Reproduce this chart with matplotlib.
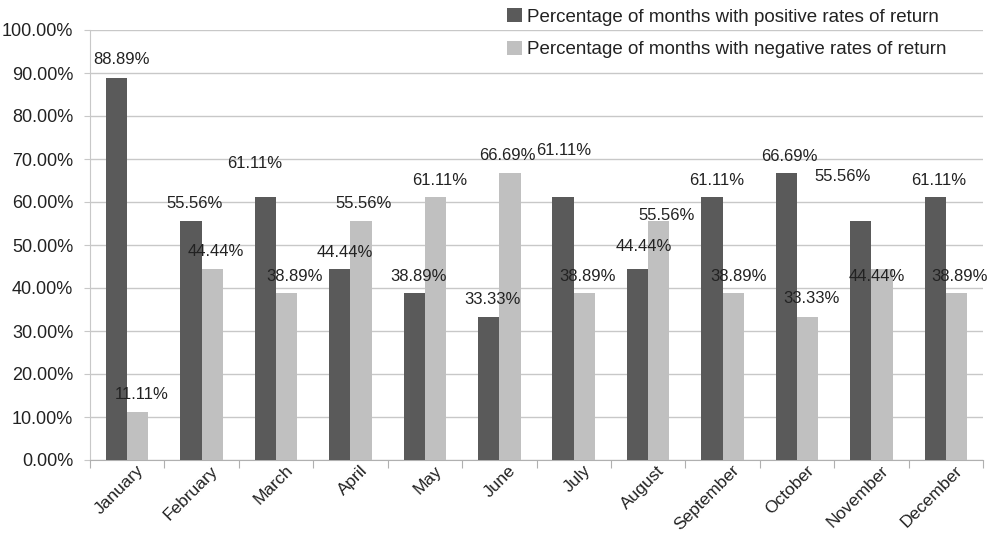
import numpy as np
import matplotlib.pyplot as plt
import matplotlib.transforms as mtransforms
from matplotlib.ticker import FixedLocator, PercentFormatter

plt.rcParams['font.family'] = ['Liberation Sans', 'DejaVu Sans']

months = ['January', 'February', 'March', 'April', 'May', 'June', 'July',
          'August', 'September', 'October', 'November', 'December']
positive = [88.89, 55.56, 61.11, 44.44, 38.89, 33.33, 61.11, 44.44, 61.11, 66.69, 55.56, 61.11]
negative = [11.11, 44.44, 38.89, 55.56, 61.11, 66.69, 38.89, 55.56, 38.89, 33.33, 44.44, 38.89]
pos_name = 'Percentage of months with positive rates of return'
neg_name = 'Percentage of months with negative rates of return'

# label offsets (pixels) - the original labels are a bit scattered
pos_dx = [5, 4, -11, 5, 4, 4, 1, 6, 5, 3, -18, 4]
pos_dy = [18, 18, 34, 16, 16, 17, 47, 22, 17, 17, 45, 17]
neg_dx = [4, 4, 8, 3, 4, -3, 3, 8, 5, 4, -5, 3]
neg_dy = [18, 17, 16, 18, 17, 18, 16, 6, 16, 18, -8, 16]

dark = '#5a5a5a'
light = '#c0c0c0'
txt = '#222222'

fig = plt.figure(figsize=(9.93, 5.36), dpi=100)
ax = fig.add_axes([90/993, 76/536, 893/993, 430/536])

x = np.arange(len(months))
w = 0.285
b1 = ax.bar(x - w/2, positive, w, color=dark, label=pos_name, zorder=3)
b2 = ax.bar(x + w/2, negative, w, color=light, label=neg_name, zorder=3)

for bars, vals, dxs, dys in [(b1, positive, pos_dx, pos_dy), (b2, negative, neg_dx, neg_dy)]:
    for r, v, dx, dy in zip(bars, vals, dxs, dys):
        ax.annotate(f'{v:.2f}%', (r.get_x() + r.get_width()/2, v),
                    xytext=(dx, dy), textcoords='offset pixels',
                    ha='center', va='center', fontsize=12, color=txt, zorder=4)

ax.set_xlim(-0.5, len(months) - 0.5)
ax.set_ylim(0, 100)
ax.set_yticks(np.arange(0, 101, 10))
ax.yaxis.set_major_formatter(PercentFormatter(decimals=2))
ax.grid(axis='y', color='#c8c8c8', linewidth=1, zorder=0)

ax.xaxis.set_major_locator(FixedLocator(np.arange(-0.5, len(months), 1)))
ax.xaxis.set_major_formatter(plt.NullFormatter())
ax.xaxis.set_minor_locator(FixedLocator(x))
ax.set_xticklabels(months, minor=True, rotation=45, ha='right',
                   rotation_mode='anchor', fontsize=12.5, color=txt)
ax.tick_params(axis='x', which='major', length=6, color='#b0b0b0', direction='out')
ax.tick_params(axis='x', which='minor', length=0, pad=2)
shift = mtransforms.ScaledTranslation(9/100, 0, fig.dpi_scale_trans)
for lbl in ax.get_xticklabels(minor=True):
    lbl.set_transform(lbl.get_transform() + shift)
ax.tick_params(axis='y', length=4, color='#c8c8c8', labelsize=13, labelcolor=txt, pad=8)

for s in ['top', 'right']:
    ax.spines[s].set_visible(False)
ax.spines['left'].set_color('#c8c8c8')
ax.spines['bottom'].set_color('#b0b0b0')

fig.legend(loc='upper left', bbox_to_anchor=(490/993, 1 + 9/536), frameon=False,
           fontsize=13.5, handlelength=0.8, handleheight=0.8, handletextpad=0.25,
           labelspacing=0.8, labelcolor=txt)

fig.savefig('out.png', dpi=100)
